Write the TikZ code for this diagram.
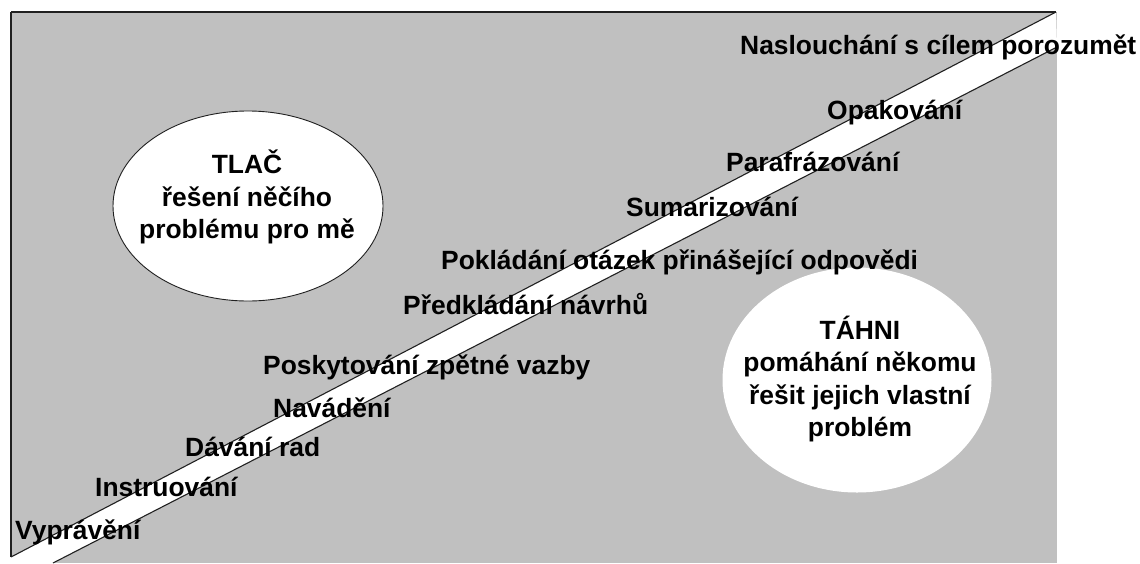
\documentclass[tikz,border=0pt]{standalone}
\usepackage{fontspec}
\setmainfont{Liberation Sans}
\usetikzlibrary{shapes.geometric}
\definecolor{panel}{HTML}{C0C0C0}
\definecolor{edge}{HTML}{202020}
\tikzset{
  lbl/.style={anchor=base west, inner sep=0pt, font=\fontsize{26.4}{33}\selectfont\bfseries},
  bubbletext/.style={inner sep=0pt, align=center, font=\fontsize{26.4}{32.5}\selectfont\bfseries},
  bandline/.style={draw=edge, line width=1.1pt},
}
\begin{document}
\begin{tikzpicture}[x=1pt,y=-1pt]
\useasboundingbox (0,0) rectangle (1140,563);
% panel
\fill[panel] (11,12) rectangle (1057,563);
% band
\coordinate (bl1) at (11,557);
\coordinate (tr1) at (1056,12);
\coordinate (tr2) at (1057,47);
\coordinate (bl2) at (53,563);
\fill[white] (bl1) -- (tr1) -- (tr2) -- (bl2) -- (11,563) -- cycle;
\draw[bandline] (bl1) -- (tr1);
\draw[bandline] (bl2) -- (tr2);
% borders
\coordinate (tl) at (11,12);
\draw[edge, line width=1.8pt] (tl) -- (tr1);
\draw[edge, line width=1.3pt] (tl) -- (bl1);
% bubbles
\node[ellipse, draw=edge, line width=0.9pt, fill=white, minimum width=270pt, minimum height=190pt] (tlac) at (248,206) {};
\node[bubbletext] (tlactext) at (247,197) {TLAČ\\řešení něčího\\problému pro mě};
\node[ellipse, fill=white, minimum width=269pt, minimum height=225pt] (tahni) at (857,380) {};
\node[bubbletext] (tahnitext) at (860,379) {TÁHNI\\pomáhání někomu\\řešit jejich vlastní\\problém};
% labels
\node[lbl] (l1) at (740,54) {Naslouchání s cílem porozumět};
\node[lbl] (l2) at (827,119) {Opakování};
\node[lbl] (l3) at (726,171) {Parafrázování};
\node[lbl] (l4) at (626,216) {Sumarizování};
\node[lbl] (l5) at (441,269) {Pokládání otázek přinášející odpovědi};
\node[lbl] (l6) at (403,314) {Předkládání návrhů};
\node[lbl] (l7) at (263,374) {Poskytování zpětné vazby};
\node[lbl] (l8) at (273,417) {Navádění};
\node[lbl] (l9) at (185,456) {Dávání rad};
\node[lbl] (l10) at (95,496) {Instruování};
\node[lbl] (l11) at (15,539) {Vyprávění};
\end{tikzpicture}
\end{document}
